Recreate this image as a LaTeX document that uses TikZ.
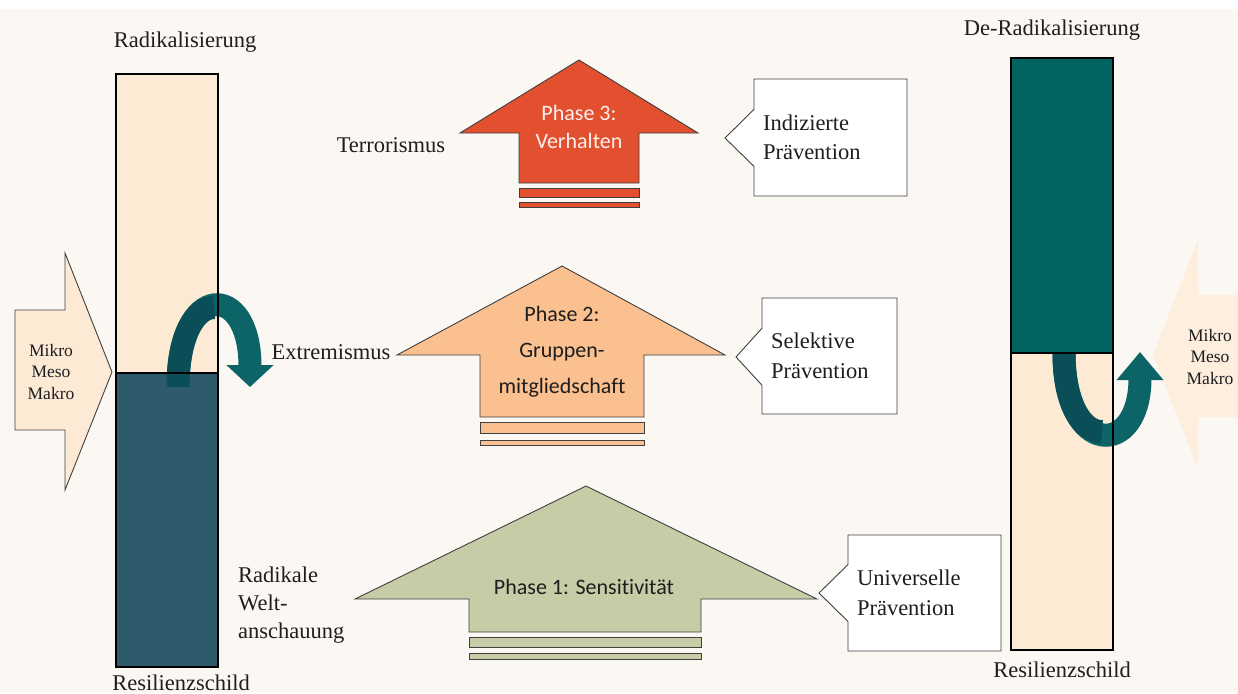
\documentclass[tikz,border=0pt]{standalone}
\usepackage{fontspec}
\setmainfont{Liberation Serif}
\newfontfamily\phasefont[Ligatures=NoCommon]{Carlito}
\usetikzlibrary{arrows.meta, shapes.callouts}
\definecolor{paper}{RGB}{251,248,243}
\definecolor{peach}{RGB}{253,234,213}
\definecolor{peachfade}{RGB}{253,238,221}
\definecolor{slate}{RGB}{46,90,107}
\definecolor{shieldgreen}{RGB}{1,100,97}
\definecolor{turn}{RGB}{13,100,103}
\definecolor{turndark}{RGB}{10,78,87}
\definecolor{phasered}{RGB}{226,80,47}
\definecolor{phaseorange}{RGB}{250,192,144}
\definecolor{phasegreen}{RGB}{197,204,166}
\definecolor{edge}{RGB}{64,64,64}
\definecolor{ink}{RGB}{30,30,30}

\begin{document}
\begin{tikzpicture}[
  x=1pt, y=-1pt,
  lbl/.style={font=\fontsize{22.5}{28}\selectfont, text=ink, inner sep=0},
  small/.style={font=\fontsize{17.5}{21.5}\selectfont, text=ink, align=center, inner sep=0},
  phase/.style={font=\phasefont\fontsize{22}{36}\selectfont, align=center, inner sep=0},
  shield/.style={draw=black, line width=1.5pt},
  phasebox/.style={draw=edge, line width=0.9pt},
  note/.style={rectangle callout, draw=edge, fill=white, line width=0.9pt,
    callout pointer width=57pt, font=\fontsize{22.5}{29.5}\selectfont, text=ink,
    align=left, inner xsep=9pt, inner ysep=0pt},
  uturn/.style={line width=23pt, draw=turn},
]
\useasboundingbox (0,0) rectangle (1238,693);
\fill[paper] (0,9) rectangle (1238,693);
\fill[white] (0,0) rectangle (1238,9);

% Mikro / Meso / Makro inputs
\filldraw[fill=peach, draw=edge, line width=0.9pt]
  (15,310) -- (65,310) -- (65,253) -- (112,372) -- (65,490) -- (65,430) -- (15,430) -- cycle;
\node[small] (mmleft) at (51,372) {Mikro\\Meso\\Makro};
\fill[peachfade]
  (1238,295) -- (1198,295) -- (1198,240) -- (1153,355) -- (1198,468) -- (1198,417) -- (1238,417) -- cycle;
\node[small] (mmright) at (1210,357) {Mikro\\Meso\\Makro};

% Resilience shields (fills)
\fill[peach] (116,74) rectangle (218,373);
\fill[slate] (116,373) rectangle (218,667);
\fill[shieldgreen] (1011,58) rectangle (1113,353);
\fill[peach] (1011,353) rectangle (1113,650);

% U-turns
\coordinate (lturnA) at (178,387);
\coordinate (lturnB) at (250,387);
\coordinate (rturnA) at (1064,353);
\coordinate (rturnB) at (1140,352);
\draw[uturn, -{Triangle[width=46pt, length=22pt]}]
  (lturnA) .. controls (178,281) and (250,281) .. (lturnB);
\draw[uturn, draw=turndark] (lturnA) .. controls (178,334) and (196,307.5) .. (214,307.5);
\draw[uturn, -{Triangle[width=45pt, length=28pt]}]
  (rturnA) .. controls (1064,458) and (1140,458) .. (rturnB);
\draw[uturn, draw=turndark] (rturnA) .. controls (1064,405.5) and (1083,431.75) .. (1102,431.6);

% Resilience shields (borders)
\draw[shield] (116,74) rectangle (218,667);
\draw[shield] (116,373) -- (218,373);
\draw[shield] (1011,58) rectangle (1113,650);
\draw[shield] (1011,353) -- (1113,353);

% Phase 3
\filldraw[phasebox, fill=phasered]
  (519,183) -- (519,133) -- (460,133) -- (579,60) -- (698,133) -- (639,133) -- (639,183) -- cycle;
\filldraw[phasebox, fill=phasered] (519,188) rectangle (639,197);
\filldraw[phasebox, fill=phasered] (519,202) rectangle (639,207);
\node[phase, text=white!92!phasered, font=\phasefont\fontsize{22}{28}\selectfont] (p3) at (579,127) {Phase 3:\\Verhalten};

% Phase 2
\filldraw[phasebox, fill=phaseorange]
  (480,417) -- (480,355) -- (397,355) -- (562,266) -- (725,355) -- (644,355) -- (644,417) -- cycle;
\filldraw[phasebox, fill=phaseorange] (480,422) rectangle (644,433);
\filldraw[phasebox, fill=phaseorange] (480,440) rectangle (644,445);
\node[phase, text=ink] (p2) at (562,352) {Phase 2:\\Gruppen-\\mitgliedschaft};

% Phase 1
\filldraw[phasebox, fill=phasegreen]
  (469,632) -- (469,599) -- (355,599) -- (586,486) -- (817,599) -- (701,599) -- (701,632) -- cycle;
\filldraw[phasebox, fill=phasegreen] (469,637) rectangle (701,647);
\filldraw[phasebox, fill=phasegreen] (469,653) rectangle (701,659);
\node[phase, text=ink] (p1) at (584,587) {Phase 1: Sensitivität};

% Prevention callouts
\node[note, text width=135pt, minimum height=117pt, callout absolute pointer={(725,138)}]
  (prev3) at (830.5,137.5) {Indizierte\\Prävention};
\node[note, text width=117pt, minimum height=116pt, callout absolute pointer={(736,357)}]
  (prev2) at (829.5,356) {Selektive\\Prävention};
\node[note, text width=135pt, minimum height=116pt, callout absolute pointer={(819,593)}]
  (prev1) at (924.5,593) {Universelle\\Prävention};

% Labels
\node[lbl] (radi) at (185,42) {Radikalisierung};
\node[lbl] (deradi) at (1052,30) {De-Radikalisierung};
\node[lbl, anchor=base] (resleft) at (181,690) {Resilienzschild};
\node[lbl] (resright) at (1062,670) {Resilienzschild};
\node[lbl] (terror) at (391,145) {Terrorismus};
\node[lbl] (extrem) at (331,352) {Extremismus};
\node[lbl, align=left, anchor=west] (welt) at (238,605) {Radikale\\Welt-\\anschauung};

\end{tikzpicture}
\end{document}
